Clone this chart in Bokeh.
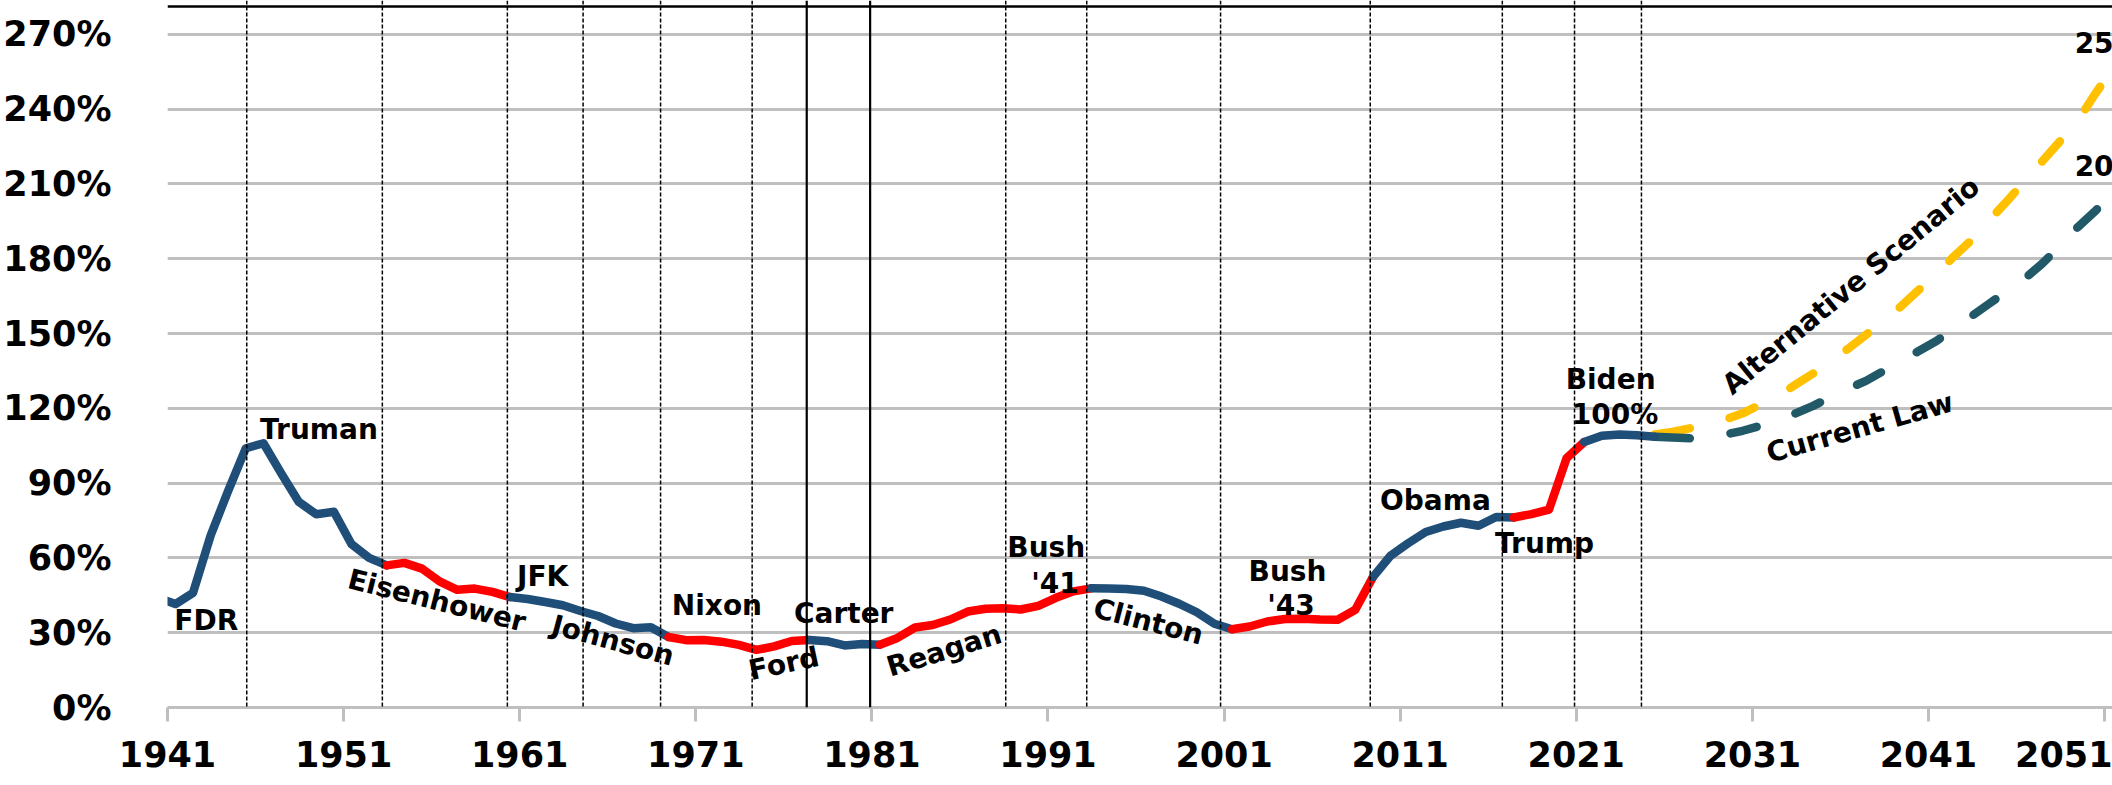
import math
from bokeh.plotting import figure
from bokeh.models import Span, FixedTicker, PrintfTickFormatter, ColumnDataSource, Range1d
from bokeh.embed import file_html
from bokeh.resources import INLINE
from bokeh.core.properties import value

# ---------------- data ----------------
years = list(range(1940, 2028))
debt = [44.0, 41.5, 46.0, 69.0, 87.0, 104.0, 106.0, 94.0, 82.5, 77.5,      # 1940-49
        78.5, 65.5, 60.0, 57.0, 58.0, 55.7, 50.6, 47.2, 47.7, 46.4,        # 1950-59
        44.3, 43.5, 42.3, 41.0, 38.7, 36.7, 33.7, 31.8, 32.2, 28.3,        # 1960-69
        27.0, 27.1, 26.4, 25.1, 23.1, 24.5, 26.7, 27.1, 26.6, 24.9,        # 1970-79
        25.5, 25.2, 27.9, 32.1, 33.1, 35.3, 38.5, 39.6, 39.8, 39.3,        # 1980-89
        40.8, 44.0, 46.6, 47.8, 47.7, 47.5, 46.8, 44.5, 41.6, 38.2,        # 1990-99
        33.6, 31.4, 32.5, 34.5, 35.5, 35.6, 35.3, 35.2, 39.2, 52.3,        # 2000-09
        60.9, 65.9, 70.4, 72.6, 74.1, 72.9, 76.4, 76.2, 77.6, 79.4,        # 2010-19
        100.0, 106.5, 109.0, 109.5, 109.2, 108.6, 108.3, 108.0]            # 2020-27

# party control segments (start year, end year, colour key)
segments = [(1940, 1953, "D"), (1953, 1960, "R"), (1960, 1969, "D"), (1969, 1977, "R"),
            (1977, 1981, "D"), (1981, 1993, "R"), (1993, 2001, "D"), (2001, 2009, "R"),
            (2009, 2017, "D"), (2017, 2021, "R"), (2021, 2025, "D")]

proj_years = list(range(2025, 2052))
current_law = [108.6, 108.3, 108.0, 108.3, 109.5, 111.0, 113.0, 115.5, 118.0, 121.0,
               124.5, 128.0, 131.0, 135.0, 139.0, 143.0, 147.0, 152.0, 157.0, 162.0,
               167.0, 172.0, 178.0, 185.0, 192.5, 199.0, 206.0]
alternative = [109.5, 110.5, 112.0, 113.5, 115.5, 118.0, 121.5, 125.0, 129.5, 134.0,
               139.0, 144.0, 149.5, 155.0, 161.0, 167.5, 174.0, 181.0, 187.5, 195.5,
               203.0, 211.0, 219.0, 227.0, 235.0, 246.0, 256.0]
solid_until = 2027

term_lines = [1945.5, 1953.2, 1960.3, 1964.6, 1969.0, 1974.2, 1988.6, 1993.2,
              2000.8, 2009.3, 2016.8, 2020.9, 2024.7]
term_lines_solid = [1977.3, 1980.9]

x_ticks = list(range(1941, 2052, 10))
y_ticks = list(range(0, 271, 30))

ann_text = ["FDR", "Truman", "Eisenhower", "JFK", "Johnson", "Nixon", "Ford", "Carter",
            "Reagan", "Bush", "'41", "Clinton", "Bush", "'43", "Obama", "Trump",
            "Biden", "100%", "Current Law", "Alternative Scenario"]
ann_x = [1943.2, 1949.6, 1956.3, 1962.3, 1966.3, 1972.2, 1976.0, 1979.4,
         1985.1, 1990.9, 1991.4, 1996.7, 2004.6, 2004.8, 2013.0, 2019.2,
         2022.95, 2023.2, 2037.1, 2036.6]
ann_y = [34.9, 111.5, 42.9, 52.5, 26.9, 40.9, 17.6, 37.7,
         22.9, 64.2, 49.7, 34.5, 54.6, 40.9, 83.0, 65.8,
         131.6, 117.5, 112.3, 169.3]
ann_deg = [0, 0, -14, 0, -15, 0, 12, 0,
           17, 0, 0, -14.5, 0, 0, 0, 0,
           0, 0, 15.8, 39.5]

end_text = ["254%", "202%"]
end_x = [2049.3, 2049.3]
end_y = [266.3, 217.0]

# ---------------- styling ----------------
BLUE = "#1F4E79"
RED = "#FF0000"
GOLD = "#FFC000"
TEAL = "#215968"
GRID = "#BFBFBF"
FONT = "DejaVu Sans"
colors = {"D": BLUE, "R": RED}

p = figure(width=2112, height=785, output_backend="svg", toolbar_location=None,
           x_range=Range1d(1941, 2051.45), y_range=Range1d(0, 283.6),
           min_border_left=166, min_border_right=0, min_border_top=0, min_border_bottom=78)
p.outline_line_color = None
p.background_fill_color = "white"
p.border_fill_color = "white"

p.xgrid.grid_line_color = None
p.ygrid.grid_line_color = GRID
p.ygrid.grid_line_width = 3
p.ygrid.ticker = FixedTicker(ticks=y_ticks)

xa = p.xaxis[0]
xa.ticker = FixedTicker(ticks=x_ticks)
xa.formatter = PrintfTickFormatter(format="%d")
xa.axis_line_color = GRID
xa.axis_line_width = 3
xa.major_tick_line_color = GRID
xa.major_tick_line_width = 3
xa.major_tick_in = 0
xa.major_tick_out = 14
xa.minor_tick_line_color = None
xa.major_label_standoff = 19
xa.major_label_text_font = FONT
xa.major_label_text_font_style = "bold"
xa.major_label_text_font_size = "35px"
xa.major_label_text_color = "black"

ya = p.yaxis[0]
ya.ticker = FixedTicker(ticks=y_ticks)
ya.formatter = PrintfTickFormatter(format="%d%%")
ya.axis_line_color = None
ya.major_tick_line_color = None
ya.minor_tick_line_color = None
ya.major_tick_in = 0
ya.major_tick_out = 0
ya.major_label_standoff = 56
ya.major_label_text_font = FONT
ya.major_label_text_font_style = "bold"
ya.major_label_text_font_size = "35px"
ya.major_label_text_color = "black"

# title underline at the very top
p.add_layout(Span(location=281.2, dimension="width", line_color="black", line_width=2.5))

# presidential term lines
for t in term_lines:
    p.add_layout(Span(location=t, dimension="height", line_color="black",
                      line_width=1.5, line_dash="4 2"))
for t in term_lines_solid:
    p.add_layout(Span(location=t, dimension="height", line_color="black", line_width=2.2))

OFF = 0.45  # points sit near mid-year of each fiscal year

def split(ys, vs):
    s_x = [y + OFF for y, v in zip(ys, vs) if y <= solid_until]
    s_y = [v for y, v in zip(ys, vs) if y <= solid_until]
    d_x = [y + OFF for y, v in zip(ys, vs) if y >= solid_until]
    d_y = [v for y, v in zip(ys, vs) if y >= solid_until]
    return s_x, s_y, d_x, d_y

for series, col in ((alternative, GOLD), (current_law, TEAL)):
    s_x, s_y, d_x, d_y = split(proj_years, series)
    p.line(s_x, s_y, line_color=col, line_width=8.5, line_join="round", line_cap="round")
    p.line(d_x, d_y, line_color=col, line_width=8.5, line_dash="27 41", line_dash_offset=27,
           line_cap="round", line_join="round")

for start, end, party in segments:
    i0 = years.index(start)
    i1 = years.index(end)
    xs = [y + OFF for y in years[i0:i1 + 1]]
    ys = debt[i0:i1 + 1]
    p.line(xs, ys, line_color=colors[party], line_width=8.5, line_join="round", line_cap="round")

src = ColumnDataSource(dict(x=ann_x, y=ann_y, t=ann_text,
                            a=[d * math.pi / 180 for d in ann_deg]))
p.text(x="x", y="y", text="t", angle="a", source=src, text_font=value(FONT),
       text_font_style="bold", text_font_size="28px", text_align="center",
       text_baseline="middle", text_color="black")
src2 = ColumnDataSource(dict(x=end_x, y=end_y, t=end_text))
p.text(x="x", y="y", text="t", source=src2, text_font=value(FONT),
       text_font_style="bold", text_font_size="28px", text_align="left",
       text_baseline="middle", text_color="black")

open("out.html", "w").write(file_html(p, INLINE))
